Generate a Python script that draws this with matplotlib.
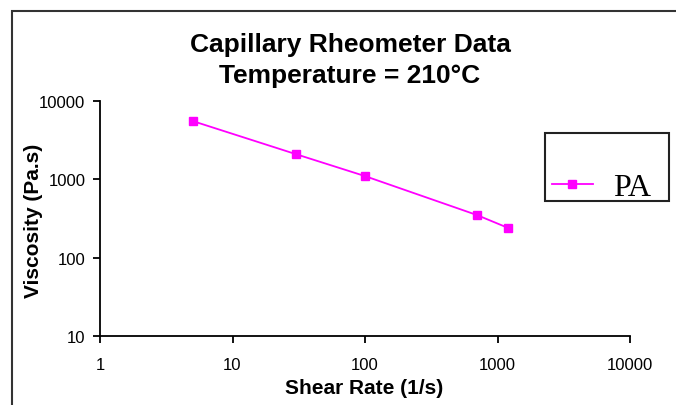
import matplotlib
matplotlib.use("Agg")
import matplotlib.pyplot as plt
from matplotlib.patches import Rectangle

# Data
shear_rate = [5, 30, 100, 700, 1200]
viscosity = [5550, 2100, 1100, 350, 240]
series_name = "PA"
x_ticks = [1, 10, 100, 1000, 10000]
x_tick_labels = ["1", "10", "100", "1000", "10000"]
y_ticks = [10, 100, 1000, 10000]
y_tick_labels = ["10", "100", "1000", "10000"]

W, H = 676, 406
fig = plt.figure(figsize=(W / 100, H / 100), dpi=100)
fig.patch.set_facecolor("white")

# outer chart frame (extends beyond right/bottom)
fig.patches.append(Rectangle((12 / W, -0.05), 1.2, (H - 12) / H + 0.05,
                             transform=fig.transFigure, fill=False,
                             edgecolor="#333333", linewidth=1.5))
# legend frame
fig.patches.append(Rectangle((545 / W, (H - 202) / H), 124 / W, 68 / H,
                             transform=fig.transFigure, fill=False,
                             edgecolor="#222222", linewidth=1.5))

ax = fig.add_axes([100 / W, (H - 337) / H, 530 / W, 235 / H])
ax.set_xscale("log")
ax.set_yscale("log")
ax.plot(shear_rate, viscosity, color="#FF00FF", linewidth=1.3,
        marker="s", markersize=6, label=series_name)
ax.set_xlim(1, 10000)
ax.set_ylim(10, 10000)
ax.set_xticks(x_ticks)
ax.set_xticklabels(x_tick_labels)
ax.set_yticks(y_ticks)
ax.set_yticklabels(y_tick_labels)
ax.minorticks_off()
for s in ["top", "right"]:
    ax.spines[s].set_visible(False)
for s in ["left", "bottom"]:
    ax.spines[s].set_linewidth(1.3)
ax.tick_params(axis="both", direction="out", length=5, width=1.3,
               labelsize=12, colors="black")
ax.tick_params(axis="x", pad=10)
ax.tick_params(axis="y", pad=5.5)
for lab in ax.get_xticklabels() + ax.get_yticklabels():
    lab.set_family("Liberation Sans")

ax.set_xlabel("Shear Rate (1/s)", fontsize=15, fontweight="bold",
              family="Liberation Sans")
ax.set_ylabel("Viscosity (Pa.s)", fontsize=15, fontweight="bold",
              family="Liberation Sans")
ax.xaxis.label.set_va("center")
ax.yaxis.label.set_va("center")
ax.xaxis.set_label_coords((364.5 - 100) / 530, (337 - 389) / 235)
ax.yaxis.set_label_coords((34 - 100) / 530, (337 - 221) / 235)

fig.text(350 / W, 1 - 45 / H, "Capillary Rheometer Data", ha="center",
         va="center", fontsize=19, fontweight="bold",
         family="Liberation Sans")
fig.text(350 / W, 1 - 76 / H, "Temperature = 210°C", ha="center",
         va="center", fontsize=19, fontweight="bold",
         family="Liberation Sans")

leg = ax.legend(loc="lower left",
                bbox_to_anchor=(552 / W, (H - 203) / H),
                bbox_transform=fig.transFigure,
                borderaxespad=0, borderpad=0, handlelength=1.28,
                handletextpad=0.63, frameon=False,
                prop={"family": "Liberation Serif", "size": 23})

fig.savefig("out.png", dpi=100)
